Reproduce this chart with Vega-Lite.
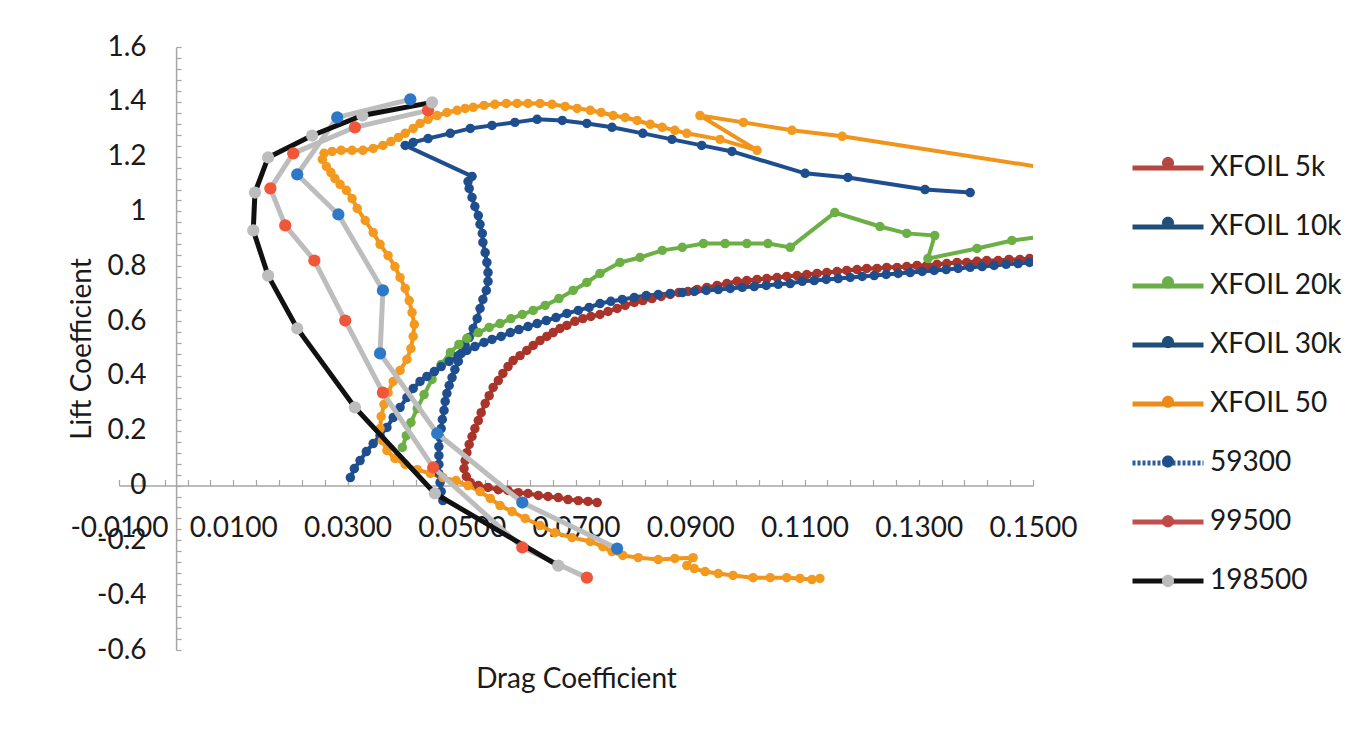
{
  "$schema": "https://vega.github.io/schema/vega-lite/v6.json",
  "width": 914,
  "height": 603,
  "autosize": {"type": "none"},
  "padding": {"left": 119, "top": 47, "right": 339, "bottom": 90},
  "background": "#ffffff",
  "config": {
    "view": {"stroke": null},
    "font": "Lato",
    "axis": {"grid": false, "labelFont": "Lato", "titleFont": "Lato", "labelFontSize": 28, "titleFontSize": 28, "titleFontWeight": "normal", "labelColor": "#1a1a1a", "titleColor": "#1a1a1a", "domainColor": "#a6a6a6", "tickColor": "#a6a6a6", "domainWidth": 1.5, "tickWidth": 1.2},
    "legend": {"orient": "none", "legendX": 1011, "legendY": 83, "padding": 0, "rowPadding": 7, "symbolSize": 5041, "symbolStrokeWidth": 5, "symbolOpacity": 1, "labelFont": "Lato", "labelFontSize": 28, "labelColor": "#1a1a1a", "labelOffset": 4, "labelLimit": 300}
  },
  "data": {"values": [
    {"s":"XFOIL 5k","x":0.0737,"y":-0.062},{"s":"XFOIL 5k","x":0.0721,"y":-0.058},{"s":"XFOIL 5k","x":0.0704,"y":-0.055},{"s":"XFOIL 5k","x":0.0686,"y":-0.051},{"s":"XFOIL 5k","x":0.0669,"y":-0.044},{"s":"XFOIL 5k","x":0.0651,"y":-0.040},{"s":"XFOIL 5k","x":0.0634,"y":-0.036},{"s":"XFOIL 5k","x":0.0616,"y":-0.029},{"s":"XFOIL 5k","x":0.0599,"y":-0.026},{"s":"XFOIL 5k","x":0.0581,"y":-0.018},{"s":"XFOIL 5k","x":0.0564,"y":-0.015},{"s":"XFOIL 5k","x":0.0546,"y":-0.007},{"s":"XFOIL 5k","x":0.0529,"y":0.000},{"s":"XFOIL 5k","x":0.0515,"y":0.011},{"s":"XFOIL 5k","x":0.0508,"y":0.033},{"s":"XFOIL 5k","x":0.0504,"y":0.062},{"s":"XFOIL 5k","x":0.0506,"y":0.091},{"s":"XFOIL 5k","x":0.0509,"y":0.120},{"s":"XFOIL 5k","x":0.0513,"y":0.150},{"s":"XFOIL 5k","x":0.0518,"y":0.179},{"s":"XFOIL 5k","x":0.0523,"y":0.208},{"s":"XFOIL 5k","x":0.0529,"y":0.237},{"s":"XFOIL 5k","x":0.0534,"y":0.266},{"s":"XFOIL 5k","x":0.0541,"y":0.299},{"s":"XFOIL 5k","x":0.0548,"y":0.328},{"s":"XFOIL 5k","x":0.0555,"y":0.358},{"s":"XFOIL 5k","x":0.0564,"y":0.383},{"s":"XFOIL 5k","x":0.0572,"y":0.409},{"s":"XFOIL 5k","x":0.0581,"y":0.434},{"s":"XFOIL 5k","x":0.0590,"y":0.456},{"s":"XFOIL 5k","x":0.0602,"y":0.474},{"s":"XFOIL 5k","x":0.0614,"y":0.493},{"s":"XFOIL 5k","x":0.0625,"y":0.511},{"s":"XFOIL 5k","x":0.0637,"y":0.529},{"s":"XFOIL 5k","x":0.0649,"y":0.544},{"s":"XFOIL 5k","x":0.0660,"y":0.558},{"s":"XFOIL 5k","x":0.0672,"y":0.573},{"s":"XFOIL 5k","x":0.0684,"y":0.584},{"s":"XFOIL 5k","x":0.0698,"y":0.599},{"s":"XFOIL 5k","x":0.0712,"y":0.609},{"s":"XFOIL 5k","x":0.0726,"y":0.617},{"s":"XFOIL 5k","x":0.0742,"y":0.624},{"s":"XFOIL 5k","x":0.0756,"y":0.635},{"s":"XFOIL 5k","x":0.0772,"y":0.646},{"s":"XFOIL 5k","x":0.0786,"y":0.657},{"s":"XFOIL 5k","x":0.0802,"y":0.668},{"s":"XFOIL 5k","x":0.0817,"y":0.675},{"s":"XFOIL 5k","x":0.0833,"y":0.682},{"s":"XFOIL 5k","x":0.0849,"y":0.690},{"s":"XFOIL 5k","x":0.0865,"y":0.697},{"s":"XFOIL 5k","x":0.0880,"y":0.704},{"s":"XFOIL 5k","x":0.0896,"y":0.708},{"s":"XFOIL 5k","x":0.0912,"y":0.715},{"s":"XFOIL 5k","x":0.0929,"y":0.723},{"s":"XFOIL 5k","x":0.0947,"y":0.730},{"s":"XFOIL 5k","x":0.0964,"y":0.737},{"s":"XFOIL 5k","x":0.0982,"y":0.745},{"s":"XFOIL 5k","x":0.0999,"y":0.748},{"s":"XFOIL 5k","x":0.1017,"y":0.752},{"s":"XFOIL 5k","x":0.1034,"y":0.755},{"s":"XFOIL 5k","x":0.1052,"y":0.759},{"s":"XFOIL 5k","x":0.1069,"y":0.763},{"s":"XFOIL 5k","x":0.1087,"y":0.766},{"s":"XFOIL 5k","x":0.1104,"y":0.770},{"s":"XFOIL 5k","x":0.1122,"y":0.774},{"s":"XFOIL 5k","x":0.1139,"y":0.777},{"s":"XFOIL 5k","x":0.1157,"y":0.781},{"s":"XFOIL 5k","x":0.1174,"y":0.785},{"s":"XFOIL 5k","x":0.1192,"y":0.788},{"s":"XFOIL 5k","x":0.1209,"y":0.792},{"s":"XFOIL 5k","x":0.1227,"y":0.792},{"s":"XFOIL 5k","x":0.1244,"y":0.796},{"s":"XFOIL 5k","x":0.1262,"y":0.796},{"s":"XFOIL 5k","x":0.1279,"y":0.799},{"s":"XFOIL 5k","x":0.1297,"y":0.803},{"s":"XFOIL 5k","x":0.1314,"y":0.803},{"s":"XFOIL 5k","x":0.1332,"y":0.807},{"s":"XFOIL 5k","x":0.1349,"y":0.810},{"s":"XFOIL 5k","x":0.1367,"y":0.814},{"s":"XFOIL 5k","x":0.1384,"y":0.814},{"s":"XFOIL 5k","x":0.1402,"y":0.818},{"s":"XFOIL 5k","x":0.1419,"y":0.821},{"s":"XFOIL 5k","x":0.1439,"y":0.821},{"s":"XFOIL 5k","x":0.1458,"y":0.825},{"s":"XFOIL 5k","x":0.1477,"y":0.825},{"s":"XFOIL 5k","x":0.1494,"y":0.828},
    {"s":"XFOIL 10k","x":0.0467,"y":-0.055},{"s":"XFOIL 10k","x":0.0464,"y":-0.022},{"s":"XFOIL 10k","x":0.0462,"y":0.011},{"s":"XFOIL 10k","x":0.0460,"y":0.044},{"s":"XFOIL 10k","x":0.0460,"y":0.077},{"s":"XFOIL 10k","x":0.0460,"y":0.109},{"s":"XFOIL 10k","x":0.0460,"y":0.142},{"s":"XFOIL 10k","x":0.0462,"y":0.175},{"s":"XFOIL 10k","x":0.0464,"y":0.208},{"s":"XFOIL 10k","x":0.0466,"y":0.241},{"s":"XFOIL 10k","x":0.0469,"y":0.274},{"s":"XFOIL 10k","x":0.0471,"y":0.307},{"s":"XFOIL 10k","x":0.0474,"y":0.336},{"s":"XFOIL 10k","x":0.0478,"y":0.365},{"s":"XFOIL 10k","x":0.0483,"y":0.394},{"s":"XFOIL 10k","x":0.0488,"y":0.423},{"s":"XFOIL 10k","x":0.0494,"y":0.453},{"s":"XFOIL 10k","x":0.0499,"y":0.482},{"s":"XFOIL 10k","x":0.0506,"y":0.511},{"s":"XFOIL 10k","x":0.0513,"y":0.540},{"s":"XFOIL 10k","x":0.0520,"y":0.573},{"s":"XFOIL 10k","x":0.0527,"y":0.609},{"s":"XFOIL 10k","x":0.0532,"y":0.646},{"s":"XFOIL 10k","x":0.0537,"y":0.679},{"s":"XFOIL 10k","x":0.0543,"y":0.712},{"s":"XFOIL 10k","x":0.0546,"y":0.745},{"s":"XFOIL 10k","x":0.0546,"y":0.777},{"s":"XFOIL 10k","x":0.0544,"y":0.814},{"s":"XFOIL 10k","x":0.0541,"y":0.850},{"s":"XFOIL 10k","x":0.0537,"y":0.887},{"s":"XFOIL 10k","x":0.0536,"y":0.920},{"s":"XFOIL 10k","x":0.0532,"y":0.953},{"s":"XFOIL 10k","x":0.0529,"y":0.985},{"s":"XFOIL 10k","x":0.0523,"y":1.018},{"s":"XFOIL 10k","x":0.0518,"y":1.051},{"s":"XFOIL 10k","x":0.0513,"y":1.084},{"s":"XFOIL 10k","x":0.0511,"y":1.109},{"s":"XFOIL 10k","x":0.0518,"y":1.128},{"s":"XFOIL 10k","x":0.0401,"y":1.241},{"s":"XFOIL 10k","x":0.0415,"y":1.252},{"s":"XFOIL 10k","x":0.0441,"y":1.266},{"s":"XFOIL 10k","x":0.0480,"y":1.285},{"s":"XFOIL 10k","x":0.0515,"y":1.303},{"s":"XFOIL 10k","x":0.0553,"y":1.314},{"s":"XFOIL 10k","x":0.0593,"y":1.325},{"s":"XFOIL 10k","x":0.0632,"y":1.336},{"s":"XFOIL 10k","x":0.0676,"y":1.332},{"s":"XFOIL 10k","x":0.0719,"y":1.321},{"s":"XFOIL 10k","x":0.0763,"y":1.307},{"s":"XFOIL 10k","x":0.0817,"y":1.285},{"s":"XFOIL 10k","x":0.0868,"y":1.263},{"s":"XFOIL 10k","x":0.0920,"y":1.241},{"s":"XFOIL 10k","x":0.0973,"y":1.219},{"s":"XFOIL 10k","x":0.1101,"y":1.139},{"s":"XFOIL 10k","x":0.1176,"y":1.124},{"s":"XFOIL 10k","x":0.1311,"y":1.080},{"s":"XFOIL 10k","x":0.1390,"y":1.069},
    {"s":"XFOIL 20k","x":0.0396,"y":0.139},{"s":"XFOIL 20k","x":0.0403,"y":0.182},{"s":"XFOIL 20k","x":0.0411,"y":0.230},{"s":"XFOIL 20k","x":0.0422,"y":0.281},{"s":"XFOIL 20k","x":0.0434,"y":0.332},{"s":"XFOIL 20k","x":0.0448,"y":0.387},{"s":"XFOIL 20k","x":0.0464,"y":0.442},{"s":"XFOIL 20k","x":0.0480,"y":0.485},{"s":"XFOIL 20k","x":0.0495,"y":0.515},{"s":"XFOIL 20k","x":0.0509,"y":0.537},{"s":"XFOIL 20k","x":0.0529,"y":0.558},{"s":"XFOIL 20k","x":0.0548,"y":0.577},{"s":"XFOIL 20k","x":0.0567,"y":0.591},{"s":"XFOIL 20k","x":0.0586,"y":0.609},{"s":"XFOIL 20k","x":0.0606,"y":0.624},{"s":"XFOIL 20k","x":0.0625,"y":0.639},{"s":"XFOIL 20k","x":0.0646,"y":0.657},{"s":"XFOIL 20k","x":0.0670,"y":0.682},{"s":"XFOIL 20k","x":0.0695,"y":0.712},{"s":"XFOIL 20k","x":0.0719,"y":0.741},{"s":"XFOIL 20k","x":0.0742,"y":0.774},{"s":"XFOIL 20k","x":0.0777,"y":0.814},{"s":"XFOIL 20k","x":0.0812,"y":0.832},{"s":"XFOIL 20k","x":0.0851,"y":0.858},{"s":"XFOIL 20k","x":0.0886,"y":0.869},{"s":"XFOIL 20k","x":0.0923,"y":0.883},{"s":"XFOIL 20k","x":0.0961,"y":0.883},{"s":"XFOIL 20k","x":0.0999,"y":0.883},{"s":"XFOIL 20k","x":0.1036,"y":0.883},{"s":"XFOIL 20k","x":0.1075,"y":0.869},{"s":"XFOIL 20k","x":0.1153,"y":0.996},{"s":"XFOIL 20k","x":0.1232,"y":0.945},{"s":"XFOIL 20k","x":0.1279,"y":0.920},{"s":"XFOIL 20k","x":0.1328,"y":0.912},{"s":"XFOIL 20k","x":0.1316,"y":0.828},{"s":"XFOIL 20k","x":0.1402,"y":0.865},{"s":"XFOIL 20k","x":0.1463,"y":0.894},{"s":"XFOIL 20k","x":0.1544,"y":0.916},
    {"s":"XFOIL 30k","x":0.0305,"y":0.029},{"s":"XFOIL 30k","x":0.0312,"y":0.062},{"s":"XFOIL 30k","x":0.0322,"y":0.091},{"s":"XFOIL 30k","x":0.0333,"y":0.124},{"s":"XFOIL 30k","x":0.0345,"y":0.153},{"s":"XFOIL 30k","x":0.0357,"y":0.182},{"s":"XFOIL 30k","x":0.0369,"y":0.212},{"s":"XFOIL 30k","x":0.0380,"y":0.248},{"s":"XFOIL 30k","x":0.0392,"y":0.285},{"s":"XFOIL 30k","x":0.0404,"y":0.321},{"s":"XFOIL 30k","x":0.0415,"y":0.354},{"s":"XFOIL 30k","x":0.0427,"y":0.380},{"s":"XFOIL 30k","x":0.0439,"y":0.398},{"s":"XFOIL 30k","x":0.0452,"y":0.416},{"s":"XFOIL 30k","x":0.0464,"y":0.434},{"s":"XFOIL 30k","x":0.0478,"y":0.453},{"s":"XFOIL 30k","x":0.0494,"y":0.474},{"s":"XFOIL 30k","x":0.0509,"y":0.493},{"s":"XFOIL 30k","x":0.0523,"y":0.507},{"s":"XFOIL 30k","x":0.0539,"y":0.522},{"s":"XFOIL 30k","x":0.0553,"y":0.533},{"s":"XFOIL 30k","x":0.0569,"y":0.544},{"s":"XFOIL 30k","x":0.0585,"y":0.558},{"s":"XFOIL 30k","x":0.0600,"y":0.569},{"s":"XFOIL 30k","x":0.0616,"y":0.580},{"s":"XFOIL 30k","x":0.0632,"y":0.591},{"s":"XFOIL 30k","x":0.0648,"y":0.602},{"s":"XFOIL 30k","x":0.0665,"y":0.613},{"s":"XFOIL 30k","x":0.0684,"y":0.628},{"s":"XFOIL 30k","x":0.0704,"y":0.639},{"s":"XFOIL 30k","x":0.0723,"y":0.650},{"s":"XFOIL 30k","x":0.0742,"y":0.664},{"s":"XFOIL 30k","x":0.0761,"y":0.672},{"s":"XFOIL 30k","x":0.0781,"y":0.679},{"s":"XFOIL 30k","x":0.0802,"y":0.686},{"s":"XFOIL 30k","x":0.0823,"y":0.693},{"s":"XFOIL 30k","x":0.0844,"y":0.697},{"s":"XFOIL 30k","x":0.0865,"y":0.701},{"s":"XFOIL 30k","x":0.0886,"y":0.704},{"s":"XFOIL 30k","x":0.0907,"y":0.708},{"s":"XFOIL 30k","x":0.0928,"y":0.712},{"s":"XFOIL 30k","x":0.0949,"y":0.715},{"s":"XFOIL 30k","x":0.0970,"y":0.719},{"s":"XFOIL 30k","x":0.0991,"y":0.723},{"s":"XFOIL 30k","x":0.1012,"y":0.726},{"s":"XFOIL 30k","x":0.1033,"y":0.730},{"s":"XFOIL 30k","x":0.1054,"y":0.734},{"s":"XFOIL 30k","x":0.1075,"y":0.737},{"s":"XFOIL 30k","x":0.1096,"y":0.745},{"s":"XFOIL 30k","x":0.1117,"y":0.748},{"s":"XFOIL 30k","x":0.1138,"y":0.752},{"s":"XFOIL 30k","x":0.1159,"y":0.755},{"s":"XFOIL 30k","x":0.1180,"y":0.759},{"s":"XFOIL 30k","x":0.1201,"y":0.763},{"s":"XFOIL 30k","x":0.1222,"y":0.766},{"s":"XFOIL 30k","x":0.1243,"y":0.770},{"s":"XFOIL 30k","x":0.1264,"y":0.774},{"s":"XFOIL 30k","x":0.1285,"y":0.777},{"s":"XFOIL 30k","x":0.1306,"y":0.781},{"s":"XFOIL 30k","x":0.1327,"y":0.785},{"s":"XFOIL 30k","x":0.1348,"y":0.788},{"s":"XFOIL 30k","x":0.1369,"y":0.792},{"s":"XFOIL 30k","x":0.1390,"y":0.796},{"s":"XFOIL 30k","x":0.1411,"y":0.799},{"s":"XFOIL 30k","x":0.1432,"y":0.803},{"s":"XFOIL 30k","x":0.1453,"y":0.807},{"s":"XFOIL 30k","x":0.1474,"y":0.810},{"s":"XFOIL 30k","x":0.1494,"y":0.814},
    {"s":"XFOIL 50","x":0.1127,"y":-0.339},{"s":"XFOIL 50","x":0.1113,"y":-0.343},{"s":"XFOIL 50","x":0.1092,"y":-0.339},{"s":"XFOIL 50","x":0.1069,"y":-0.336},{"s":"XFOIL 50","x":0.1040,"y":-0.336},{"s":"XFOIL 50","x":0.1010,"y":-0.336},{"s":"XFOIL 50","x":0.0975,"y":-0.328},{"s":"XFOIL 50","x":0.0949,"y":-0.321},{"s":"XFOIL 50","x":0.0926,"y":-0.314},{"s":"XFOIL 50","x":0.0907,"y":-0.303},{"s":"XFOIL 50","x":0.0894,"y":-0.292},{"s":"XFOIL 50","x":0.0905,"y":-0.263},{"s":"XFOIL 50","x":0.0873,"y":-0.266},{"s":"XFOIL 50","x":0.0844,"y":-0.270},{"s":"XFOIL 50","x":0.0809,"y":-0.263},{"s":"XFOIL 50","x":0.0782,"y":-0.255},{"s":"XFOIL 50","x":0.0763,"y":-0.241},{"s":"XFOIL 50","x":0.0747,"y":-0.223},{"s":"XFOIL 50","x":0.0725,"y":-0.204},{"s":"XFOIL 50","x":0.0693,"y":-0.190},{"s":"XFOIL 50","x":0.0663,"y":-0.172},{"s":"XFOIL 50","x":0.0637,"y":-0.146},{"s":"XFOIL 50","x":0.0611,"y":-0.120},{"s":"XFOIL 50","x":0.0588,"y":-0.095},{"s":"XFOIL 50","x":0.0567,"y":-0.073},{"s":"XFOIL 50","x":0.0550,"y":-0.047},{"s":"XFOIL 50","x":0.0532,"y":-0.022},{"s":"XFOIL 50","x":0.0511,"y":0.000},{"s":"XFOIL 50","x":0.0490,"y":0.018},{"s":"XFOIL 50","x":0.0467,"y":0.029},{"s":"XFOIL 50","x":0.0445,"y":0.044},{"s":"XFOIL 50","x":0.0422,"y":0.058},{"s":"XFOIL 50","x":0.0401,"y":0.077},{"s":"XFOIL 50","x":0.0383,"y":0.099},{"s":"XFOIL 50","x":0.0369,"y":0.128},{"s":"XFOIL 50","x":0.0361,"y":0.164},{"s":"XFOIL 50","x":0.0357,"y":0.208},{"s":"XFOIL 50","x":0.0359,"y":0.252},{"s":"XFOIL 50","x":0.0364,"y":0.296},{"s":"XFOIL 50","x":0.0371,"y":0.339},{"s":"XFOIL 50","x":0.0380,"y":0.380},{"s":"XFOIL 50","x":0.0392,"y":0.420},{"s":"XFOIL 50","x":0.0404,"y":0.460},{"s":"XFOIL 50","x":0.0411,"y":0.500},{"s":"XFOIL 50","x":0.0415,"y":0.544},{"s":"XFOIL 50","x":0.0417,"y":0.588},{"s":"XFOIL 50","x":0.0413,"y":0.631},{"s":"XFOIL 50","x":0.0408,"y":0.675},{"s":"XFOIL 50","x":0.0401,"y":0.719},{"s":"XFOIL 50","x":0.0392,"y":0.759},{"s":"XFOIL 50","x":0.0383,"y":0.799},{"s":"XFOIL 50","x":0.0371,"y":0.839},{"s":"XFOIL 50","x":0.0357,"y":0.880},{"s":"XFOIL 50","x":0.0345,"y":0.923},{"s":"XFOIL 50","x":0.0331,"y":0.967},{"s":"XFOIL 50","x":0.0317,"y":1.011},{"s":"XFOIL 50","x":0.0308,"y":1.047},{"s":"XFOIL 50","x":0.0298,"y":1.077},{"s":"XFOIL 50","x":0.0287,"y":1.099},{"s":"XFOIL 50","x":0.0278,"y":1.120},{"s":"XFOIL 50","x":0.0271,"y":1.142},{"s":"XFOIL 50","x":0.0263,"y":1.164},{"s":"XFOIL 50","x":0.0256,"y":1.190},{"s":"XFOIL 50","x":0.0259,"y":1.212},{"s":"XFOIL 50","x":0.0273,"y":1.219},{"s":"XFOIL 50","x":0.0289,"y":1.223},{"s":"XFOIL 50","x":0.0308,"y":1.223},{"s":"XFOIL 50","x":0.0327,"y":1.223},{"s":"XFOIL 50","x":0.0345,"y":1.230},{"s":"XFOIL 50","x":0.0362,"y":1.241},{"s":"XFOIL 50","x":0.0376,"y":1.255},{"s":"XFOIL 50","x":0.0389,"y":1.270},{"s":"XFOIL 50","x":0.0401,"y":1.285},{"s":"XFOIL 50","x":0.0415,"y":1.303},{"s":"XFOIL 50","x":0.0427,"y":1.321},{"s":"XFOIL 50","x":0.0441,"y":1.336},{"s":"XFOIL 50","x":0.0457,"y":1.350},{"s":"XFOIL 50","x":0.0474,"y":1.361},{"s":"XFOIL 50","x":0.0492,"y":1.369},{"s":"XFOIL 50","x":0.0506,"y":1.376},{"s":"XFOIL 50","x":0.0520,"y":1.380},{"s":"XFOIL 50","x":0.0539,"y":1.387},{"s":"XFOIL 50","x":0.0558,"y":1.391},{"s":"XFOIL 50","x":0.0578,"y":1.394},{"s":"XFOIL 50","x":0.0597,"y":1.394},{"s":"XFOIL 50","x":0.0616,"y":1.394},{"s":"XFOIL 50","x":0.0637,"y":1.394},{"s":"XFOIL 50","x":0.0658,"y":1.391},{"s":"XFOIL 50","x":0.0681,"y":1.383},{"s":"XFOIL 50","x":0.0702,"y":1.376},{"s":"XFOIL 50","x":0.0725,"y":1.369},{"s":"XFOIL 50","x":0.0744,"y":1.361},{"s":"XFOIL 50","x":0.0765,"y":1.350},{"s":"XFOIL 50","x":0.0786,"y":1.343},{"s":"XFOIL 50","x":0.0807,"y":1.332},{"s":"XFOIL 50","x":0.0830,"y":1.318},{"s":"XFOIL 50","x":0.0851,"y":1.307},{"s":"XFOIL 50","x":0.0873,"y":1.296},{"s":"XFOIL 50","x":0.0894,"y":1.285},{"s":"XFOIL 50","x":0.0952,"y":1.263},{"s":"XFOIL 50","x":0.1017,"y":1.223},{"s":"XFOIL 50","x":0.0917,"y":1.350},{"s":"XFOIL 50","x":0.0993,"y":1.325},{"s":"XFOIL 50","x":0.1078,"y":1.296},{"s":"XFOIL 50","x":0.1166,"y":1.274},{"s":"XFOIL 50","x":0.1617,"y":1.128},
    {"s":"59300","x":0.0772,"y":-0.230},{"s":"59300","x":0.0606,"y":-0.062},{"s":"59300","x":0.0457,"y":0.190},{"s":"59300","x":0.0357,"y":0.482},{"s":"59300","x":0.0362,"y":0.712},{"s":"59300","x":0.0284,"y":0.989},{"s":"59300","x":0.0212,"y":1.135},{"s":"59300","x":0.0282,"y":1.343},{"s":"59300","x":0.0410,"y":1.409},
    {"s":"99500","x":0.0719,"y":-0.336},{"s":"99500","x":0.0606,"y":-0.226},{"s":"99500","x":0.0450,"y":0.066},{"s":"99500","x":0.0362,"y":0.339},{"s":"99500","x":0.0296,"y":0.602},{"s":"99500","x":0.0242,"y":0.821},{"s":"99500","x":0.0191,"y":0.949},{"s":"99500","x":0.0165,"y":1.084},{"s":"99500","x":0.0205,"y":1.212},{"s":"99500","x":0.0313,"y":1.307},{"s":"99500","x":0.0441,"y":1.369},
    {"s":"198500","x":0.0669,"y":-0.292},{"s":"198500","x":0.0453,"y":-0.029},{"s":"198500","x":0.0313,"y":0.285},{"s":"198500","x":0.0212,"y":0.573},{"s":"198500","x":0.0161,"y":0.766},{"s":"198500","x":0.0135,"y":0.931},{"s":"198500","x":0.0138,"y":1.069},{"s":"198500","x":0.0161,"y":1.197},{"s":"198500","x":0.0238,"y":1.277},{"s":"198500","x":0.0326,"y":1.350},{"s":"198500","x":0.0448,"y":1.398}
  ]},
  "layer": [
    {
      "transform": [{"filter": "test(/XFOIL/, datum.s)"}],
      "mark": {"type": "line", "clip": true, "strokeWidth": 4},
      "encoding": {
        "x": {"field": "x", "type": "quantitative", "scale": {"domain": [-0.01, 0.15], "nice": false, "zero": false},
          "axis": {"orient": "bottom", "offset": -164.5, "values": [-0.01, 0.01, 0.03, 0.05, 0.07, 0.09, 0.11, 0.13, 0.15], "labelExpr": "replace(format(datum.value, '.4f'), '−', '-')", "ticks": false, "labelPadding": 29, "labelFlush": false, "labelOverlap": false, "title": "Drag Coefficient", "titlePadding": 123}},
        "y": {"field": "y", "type": "quantitative", "scale": {"domain": [-0.6, 1.6], "nice": false, "zero": false},
          "axis": {"orient": "left", "offset": -57.1, "values": [-0.6, -0.4, -0.2, 0, 0.2, 0.4, 0.6, 0.8, 1, 1.2, 1.4, 1.6], "labelExpr": "replace(format(datum.value, '~g'), '−', '-')", "ticks": false, "labelPadding": 30, "labelFlush": false, "labelOverlap": false, "title": "Lift Coefficient", "titlePadding": 0}},
        "stroke": {"field": "s", "type": "nominal",
          "scale": {"domain": ["XFOIL 5k", "XFOIL 10k", "XFOIL 20k", "XFOIL 30k", "XFOIL 50"], "range": ["#A8342A", "#1F4E8F", "#6BAF45", "#1F4E8F", "#F0941B"]},
          "legend": null},
        "order": {"value": null}
      }
    },
    {
      "transform": [{"filter": "test(/XFOIL/, datum.s)"}],
      "mark": {"type": "point", "clip": true, "filled": true, "opacity": 1, "size": 90},
      "encoding": {
        "x": {"field": "x", "type": "quantitative", "scale": {"domain": [-0.01, 0.15], "nice": false, "zero": false},
          "axis": {"orient": "top", "offset": -438.5, "values": [-0.01,-0.006,-0.002,0.002,0.006,0.01,0.014,0.018,0.022,0.026,0.03,0.034,0.038,0.042,0.046,0.05,0.054,0.058,0.062,0.066,0.07,0.074,0.078,0.082,0.086,0.09,0.094,0.098,0.102,0.106,0.11,0.114,0.118,0.122,0.126,0.13,0.134,0.138,0.142,0.146,0.15], "labels": false, "domain": false, "tickSize": 6, "title": null}},
        "y": {"field": "y", "type": "quantitative", "scale": {"domain": [-0.6, 1.6], "nice": false, "zero": false},
          "axis": {"orient": "right", "offset": -856.9, "values": [-0.6,-0.56,-0.52,-0.48,-0.44,-0.4,-0.36,-0.32,-0.28,-0.24,-0.2,-0.16,-0.12,-0.08,-0.04,0,0.04,0.08,0.12,0.16,0.2,0.24,0.28,0.32,0.36,0.4,0.44,0.48,0.52,0.56,0.6,0.64,0.68,0.72,0.76,0.8,0.84,0.88,0.92,0.96,1,1.04,1.08,1.12,1.16,1.2,1.24,1.28,1.32,1.36,1.4,1.44,1.48,1.52,1.56,1.6], "labels": false, "domain": false, "tickSize": 5, "title": null}},
        "fill": {"field": "s", "type": "nominal",
          "scale": {"domain": ["XFOIL 5k", "XFOIL 10k", "XFOIL 20k", "XFOIL 30k", "XFOIL 50"], "range": ["#A8342A", "#1F4E8F", "#6BAF45", "#1F4E8F", "#F39A1E"]},
          "legend": null}
      }
    },
    {
      "transform": [{"filter": "!test(/XFOIL/, datum.s)"}],
      "mark": {"type": "line", "clip": true},
      "encoding": {
        "x": {"field": "x", "type": "quantitative", "scale": {"domain": [-0.01, 0.15], "nice": false, "zero": false}, "axis": null},
        "y": {"field": "y", "type": "quantitative", "scale": {"domain": [-0.6, 1.6], "nice": false, "zero": false}, "axis": null},
        "stroke": {"field": "s", "type": "nominal",
          "scale": {"domain": ["59300", "99500", "198500"], "range": ["#BDBDBD", "#BDBDBD", "#111111"]},
          "legend": null},
        "strokeWidth": {"field": "s", "type": "nominal", "scale": {"domain": ["59300", "99500", "198500"], "range": [5, 5, 6.5]}, "legend": null},
        "order": {"value": null}
      }
    },
    {
      "transform": [{"filter": "!test(/XFOIL/, datum.s)"}],
      "mark": {"type": "point", "clip": true, "filled": true, "opacity": 1, "size": 150},
      "encoding": {
        "x": {"field": "x", "type": "quantitative", "scale": {"domain": [-0.01, 0.15], "nice": false, "zero": false}, "axis": null},
        "y": {"field": "y", "type": "quantitative", "scale": {"domain": [-0.6, 1.6], "nice": false, "zero": false}, "axis": null},
        "fill": {"field": "s", "type": "nominal",
          "scale": {"domain": ["59300", "99500", "198500"], "range": ["#2E78C8", "#F0563A", "#BDBDBD"]},
          "legend": null}
      }
    },
    {
      "mark": {"type": "line", "opacity": 0},
      "encoding": {
        "x": {"field": "x", "type": "quantitative", "scale": {"domain": [-0.01, 0.15], "nice": false, "zero": false}, "axis": null},
        "y": {"field": "y", "type": "quantitative", "scale": {"domain": [-0.6, 1.6], "nice": false, "zero": false}, "axis": null},
        "stroke": {"field": "s", "type": "nominal",
          "scale": {"domain": ["XFOIL 5k", "XFOIL 10k", "XFOIL 20k", "XFOIL 30k", "XFOIL 50", "59300", "99500", "198500"], "range": ["#B5473E", "#1F4E79", "#6AAE4A", "#1F4E79", "#EE8A17", "#2C5C9E", "#C0504D", "#111111"]},
          "legend": {"title": null, "symbolType": "M-1,0H1", "symbolStrokeWidth": 5, "symbolOpacity": 1, "encode": {"symbols": {"update": {"strokeDash": {"signal": "datum.value === '59300' ? [3,2] : [1,0]"}}}}}},
        "order": {"value": null}
      }
    },
    {
      "mark": {"type": "point", "filled": true, "opacity": 0},
      "encoding": {
        "x": {"field": "x", "type": "quantitative", "scale": {"domain": [-0.01, 0.15], "nice": false, "zero": false}, "axis": null},
        "y": {"field": "y", "type": "quantitative", "scale": {"domain": [-0.6, 1.6], "nice": false, "zero": false}, "axis": null},
        "fill": {"field": "s", "type": "nominal",
          "scale": {"domain": ["XFOIL 5k", "XFOIL 10k", "XFOIL 20k", "XFOIL 30k", "XFOIL 50", "59300", "99500", "198500"], "range": ["#B5473E", "#1F4E79", "#6AAE4A", "#1F4E79", "#EE8A17", "#1F4E8F", "#BE4B45", "#BBBBBB"]},
          "legend": {"title": null, "legendY": 78, "rowPadding": 4.7, "symbolType": "M0.17,0A0.17,0.17,0,1,1,-0.17,0A0.17,0.17,0,1,1,0.17,0Z", "symbolStrokeWidth": 5, "symbolStrokeColor": "transparent", "symbolOpacity": 1, "labelOpacity": 0, "labelExpr": "' '"}}
      }
    }
  ],
  "resolve": {"axis": {"x": "independent", "y": "independent"}, "scale": {"stroke": "independent", "fill": "independent", "strokeWidth": "independent"}}
}
